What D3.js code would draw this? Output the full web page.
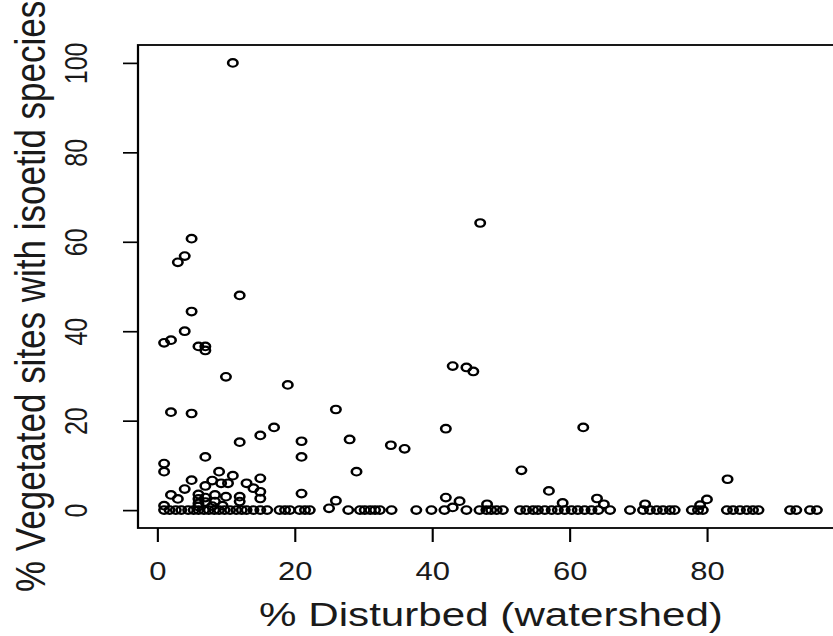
<!DOCTYPE html>
<html lang="en">
<head>
    <meta charset="UTF-8">
    <title>Isoetid species vs disturbance</title>
    <script src="https://d3js.org/d3.v7.min.js"></script>
    <style>
        body { margin: 0; background: #fff; }
        text { font-family: "Liberation Sans", Arial, Helvetica, sans-serif; fill: #1a1a1a; }
    </style>
</head>
<body>
    <div id="chart"></div>

    <script>
        // sites where isoetids were found: % disturbed and % vegetated sites
        const disturbed = [11, 47, 5, 4, 3, 12, 5, 4, 2, 1, 6, 7, 7, 43, 45, 46, 10, 19, 26, 2,
                           5, 17, 42, 62, 15, 12, 21, 28, 34, 36, 21, 7, 1, 1, 9, 29, 53, 11, 83, 5,
                           8, 9.3, 10.3, 13, 15, 7, 4, 14, 15, 57, 21, 2, 3, 8.4, 8.4, 10, 12, 12, 15, 26,
                           42, 44, 43, 48, 59, 64, 65, 71, 80, 79, 25, 6, 6, 6, 7, 1, 7, 9.5, 6, 8];
        const isoetid = [100, 64.2, 60.7, 56.8, 55.4, 48, 44.4, 40, 38, 37.4, 36.6, 36.6, 35.7, 32.2, 31.9, 31, 29.8, 28, 22.5, 21.9,
                         21.6, 18.5, 18.2, 18.5, 16.7, 15.2, 15.4, 15.8, 14.5, 13.7, 11.9, 11.9, 10.4, 8.6, 8.6, 8.6, 8.9, 7.7, 6.9, 6.7,
                         6.6, 6, 6, 6, 7.1, 5.4, 4.7, 4.9, 4.1, 4.3, 3.7, 3.4, 2.5, 3.4, 1.9, 3, 3, 1.9, 2.6, 2.1,
                         2.8, 2, 0.6, 1.3, 1.6, 2.6, 1.3, 1.3, 2.4, 1.1, 0.4, 3.5, 2.5, 1.5, 2.8, 1, 1.8, 1, 0.8, 0.9];

        const disturbedNoIsoetid = [1, 1.8, 2.7, 3.5, 4.5, 5.3, 6, 6.8, 7.5, 8.3, 9, 9.8, 10.6, 11.5, 12.3, 13, 14, 15, 16,
                                    17.8, 18.6, 19.3, 20.7, 21.5, 22.2, 27.8, 29.5, 30.2, 31, 31.7, 32.4, 34.1, 37.7, 39.9, 41.8,
                                    45, 46.9, 47.9, 48.6, 49.4, 50.3, 52.8, 53.7, 54.7, 55.4, 56.4, 57.4, 58.3, 59.3, 60.3, 61.2,
                                    62.2, 63.2, 64.2, 65.9, 68.8, 70.7, 71.7, 72.7, 73.6, 74.6, 75.3, 77.8, 78.7, 79.4, 82.9, 83.8,
                                    84.8, 85.8, 86.7, 87.5, 92.1, 93, 95, 96];

        const xTicks = [0, 20, 40, 60, 80];
        const yTicks = [0, 20, 40, 60, 80, 100];
        const xLabel = "% Disturbed (watershed)";
        const yLabel = "% Vegetated sites with isoetid species";

        const width = 833, height = 636;
        const sx = 1.24; // the original picture is stretched sideways

        const points = disturbed.map((d, i) => ({x: d, y: isoetid[i]}))
            .concat(disturbedNoIsoetid.map(d => ({x: d, y: 0})));

        // R style 4% padding on both axes
        const xExt = d3.extent(points, d => d.x), yExt = d3.extent(points, d => d.y);
        const xPad = (xExt[1] - xExt[0]) * 0.04, yPad = (yExt[1] - yExt[0]) * 0.04;

        const x = d3.scaleLinear()
            .domain([xExt[0] - xPad, xExt[1] + xPad])
            .range([138 / sx, 843 / sx]);
        const y = d3.scaleLinear()
            .domain([yExt[0] - yPad, yExt[1] + yPad])
            .range([528, 45]);

        const svg = d3.select("#chart")
            .append("svg")
            .attr("width", width)
            .attr("height", height);

        const g = svg.append("g")
            .attr("transform", `scale(${sx},1)`);

        // plot box
        g.append("rect")
            .attr("x", x.range()[0])
            .attr("y", y.range()[1])
            .attr("width", x.range()[1] - x.range()[0])
            .attr("height", y.range()[0] - y.range()[1])
            .attr("fill", "none")
            .attr("stroke", "#000")
            .attr("stroke-width", 1.8);

        // x axis
        const gx = g.append("g")
            .attr("transform", `translate(0, ${y.range()[0]})`)
            .call(d3.axisBottom(x).tickValues(xTicks).tickSize(14).tickFormat(d3.format("d")));
        gx.select(".domain").remove();
        gx.selectAll(".tick line").attr("stroke", "#000").attr("stroke-width", 1.7);
        gx.selectAll(".tick text")
            .attr("y", 52)
            .attr("dy", 0)
            .style("font-size", "25px");

        // y axis, labels turned like R
        const gy = g.append("g")
            .attr("transform", `translate(${x.range()[0]}, 0)`)
            .call(d3.axisLeft(y).tickValues(yTicks).tickSize(15 / sx).tickFormat(d3.format("d")));
        gy.select(".domain").remove();
        gy.selectAll(".tick line").attr("stroke", "#000").attr("stroke-width", 1.7);
        gy.selectAll(".tick text")
            .attr("x", 0)
            .attr("dy", 0)
            .attr("text-anchor", "middle")
            .attr("transform", `translate(${87 / sx - x.range()[0]}, 0) rotate(-90)`)
            .style("font-size", "25px");

        // points
        g.selectAll("circle")
            .data(points)
            .enter()
            .append("circle")
            .attr("cx", d => x(d.x))
            .attr("cy", d => y(d.y))
            .attr("r", 3.8)
            .attr("fill", "none")
            .attr("stroke", "#000")
            .attr("stroke-width", 2.1);

        // axis titles
        g.append("text")
            .attr("x", 491 / sx)
            .attr("y", 626)
            .attr("text-anchor", "middle")
            .style("font-size", "34px")
            .text(xLabel);

        g.append("text")
            .attr("transform", `translate(${45 / sx}, 592) rotate(-90)`)
            .attr("text-anchor", "start")
            .style("font-size", "35px")
            .text(yLabel);
    </script>
</body>
</html>
